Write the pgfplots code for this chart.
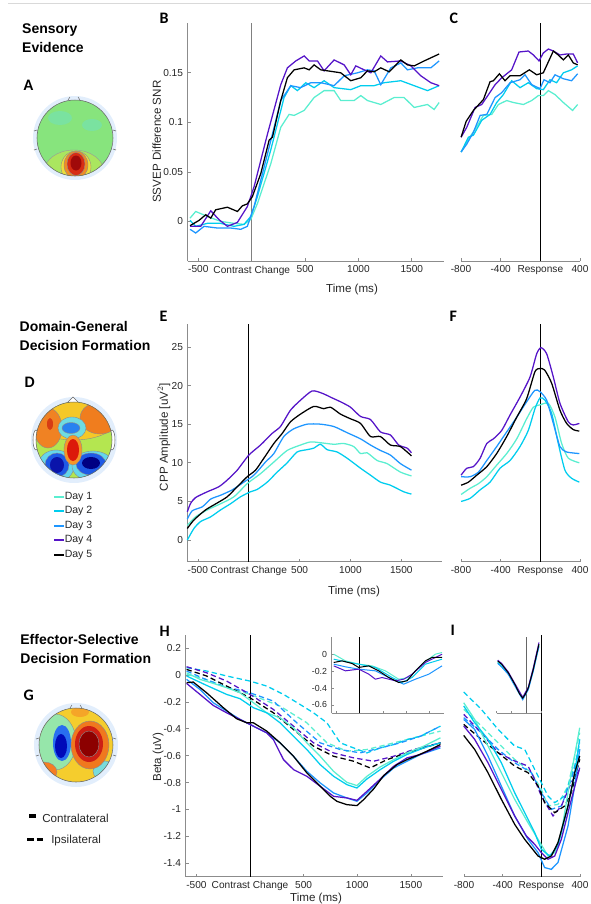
\documentclass[border=0pt]{standalone}
\usepackage{fontspec}
\setmainfont{Liberation Sans}
\newfontfamily\calib{Carlito}
\usepackage{pgfplots}
\pgfplotsset{compat=1.18}

\definecolor{dayA}{RGB}{90,238,208}
\definecolor{dayB}{RGB}{0,205,238}
\definecolor{dayC}{RGB}{30,150,255}
\definecolor{dayD}{RGB}{85,20,200}
\definecolor{halo}{RGB}{226,238,252}

\pgfplotsset{
  mat/.style={scale only axis, anchor=south west, clip=false,
    axis x line*=bottom, axis y line*=left,
    axis line style={draw=black!45, line width=0.5pt, -},
    tick style={draw=black!45, line width=0.5pt},
    tick align=inside, major tick length=2.2pt,
    tick label style={font=\fontsize{7.6}{8}\selectfont, text=black!85},
    every axis plot/.append style={line width=0.95pt}},
  resp/.style={mat, axis y line=none},
  dsh/.style={dash pattern=on 4pt off 2.4pt},
  ins/.style={mat, axis background/.style={fill=white},
    major tick length=1.6pt,
    tick label style={font=\fontsize{6.6}{7}\selectfont},
    every axis plot/.append style={line width=0.75pt}},
}

\newcommand{\lab}[1]{\fontsize{8.7}{9}\selectfont #1}
\newcommand{\ttl}[1]{\fontsize{10.5}{11}\selectfont\bfseries #1}
\newcommand{\pl}[1]{\fontsize{12}{12}\selectfont\calib\bfseries #1}

\begin{document}
\begin{tikzpicture}[x=0.75pt,y=-0.75pt]
\useasboundingbox (0,0) rectangle (591,904);
\draw[black!15, line width=0.6pt] (8,3) -- (591,3);

% ---------- titles and panel letters
\node[anchor=west] at (17.5,30) {\ttl{Sensory}};
\node[anchor=west] at (17.5,47.7) {\ttl{Evidence}};
\node[anchor=west] at (15,326) {\ttl{Domain-General}};
\node[anchor=west] at (15,345) {\ttl{Decision Formation}};
\node[anchor=west] at (15.7,639.3) {\ttl{Effector-Selective}};
\node[anchor=west] at (15.7,658.3) {\ttl{Decision Formation}};
\node[anchor=west] at (19,85) {\pl{A}};
\node[anchor=west] at (155,18.3) {\pl{B}};
\node[anchor=west] at (445,18.3) {\pl{C}};
\node[anchor=west] at (20,382.7) {\pl{D}};
\node[anchor=west] at (155,316.7) {\pl{E}};
\node[anchor=west] at (445,316.7) {\pl{F}};
\node[anchor=west] at (19,695) {\pl{G}};
\node[anchor=west] at (155,631.7) {\pl{H}};
\node[anchor=west] at (446,630) {\pl{I}};

% ---------- topographies (pictures, not data)
% A
\fill[halo] (75,138) circle (42);
\begin{scope}
\clip (75,138) circle (38);
\fill[fill={rgb,255:red,135;green,228;blue,125}] (75,138) circle (38);
\fill[fill={rgb,255:red,122;green,226;blue,160}] (60,118) ellipse (12 and 7);
\fill[fill={rgb,255:red,122;green,226;blue,160}] (92,125) ellipse (10 and 6);
\filldraw[draw=black!40, line width=0.3pt, fill={rgb,255:red,170;green,230;blue,95}] (74,172) ellipse (30 and 22);
\filldraw[draw=black!45, line width=0.3pt, fill={rgb,255:red,235;green,222;blue,60}] (76,167) ellipse (15 and 16);
\filldraw[draw=black!45, line width=0.3pt, fill={rgb,255:red,240;green,140;blue,35}] (76,165) ellipse (12 and 14);
\filldraw[draw=black!45, line width=0.3pt, fill={rgb,255:red,215;green,45;blue,20}] (76,164) ellipse (9 and 11.5);
\fill[fill={rgb,255:red,160;green,10;blue,10}] (76,163) ellipse (5.5 and 7.5);
\end{scope}
\draw[black!60, line width=0.4pt] (75,138) circle (38);
\draw[black!60, line width=0.4pt] (68,100) -- (70,97) (80,100) -- (78,97);
\draw[black!60, line width=0.4pt] (37,130) -- (34,131) (37,149) -- (34,150) (113,130) -- (116,131) (113,149) -- (116,150);

% D
\fill[halo] (74,440) circle (43);
\draw[black!60, fill=white, line width=0.4pt] (67,403) -- (73,397) -- (79,403);
\draw[black!60, fill=white, line width=0.4pt] (36,440) ellipse (3 and 10);
\draw[black!60, fill=white, line width=0.4pt] (112,440) ellipse (3 and 10);
\begin{scope}
\clip (74,440) circle (38);
\fill[fill={rgb,255:red,180;green,230;blue,80}] (74,440) circle (38);
\filldraw[draw=black!45, line width=0.3pt, fill={rgb,255:red,245;green,200;blue,40}] (74,418) ellipse (44 and 22);
\filldraw[draw=black!45, line width=0.3pt, fill={rgb,255:red,240;green,130;blue,35}] (48,428) ellipse (14 and 20);
\fill[fill={rgb,255:red,215;green,60;blue,20}] (50,424) ellipse (3 and 6);
\filldraw[draw=black!45, line width=0.3pt, fill={rgb,255:red,240;green,125;blue,30}] (100,418) ellipse (20 and 16);
\filldraw[draw=black!45, line width=0.3pt, fill={rgb,255:red,110;green,220;blue,225}] (72,428) ellipse (14 and 11);
\filldraw[draw=black!45, line width=0.3pt, fill={rgb,255:red,40;green,130;blue,240}] (71,428) ellipse (9 and 5.5);
\filldraw[draw=black!45, line width=0.3pt, fill={rgb,255:red,100;green,215;blue,235}] (56,466) ellipse (18 and 16);
\filldraw[draw=black!45, line width=0.3pt, fill={rgb,255:red,100;green,215;blue,235}] (93,466) ellipse (21 and 15);
\filldraw[draw=black!45, line width=0.3pt, fill={rgb,255:red,30;green,90;blue,230}] (57,465) ellipse (12 and 12);
\filldraw[draw=black!45, line width=0.3pt, fill={rgb,255:red,30;green,90;blue,230}] (91,464) ellipse (15 and 11);
\fill[fill={rgb,255:red,10;green,20;blue,170}] (57,465) ellipse (7 and 8);
\fill[fill={rgb,255:red,0;green,0;blue,130}] (91,463) ellipse (9 and 6);
\filldraw[draw=black!45, line width=0.3pt, fill={rgb,255:red,245;green,150;blue,40}] (73,450) ellipse (9 and 15);
\fill[fill={rgb,255:red,220;green,25;blue,10}] (73,450) ellipse (6 and 11);
\end{scope}
\draw[black!60, line width=0.4pt] (74,440) circle (38);

% G
\fill[halo] (76,745) circle (42);
\begin{scope}
\clip (76,745) circle (37);
\fill[fill={rgb,255:red,245;green,205;blue,45}] (76,745) circle (37);
\fill[fill={rgb,255:red,245;green,165;blue,40}] (80,712) ellipse (9 and 5);
\filldraw[draw=black!45, line width=0.3pt, fill={rgb,255:red,150;green,230;blue,170}] (55,742) ellipse (21 and 28);
\filldraw[draw=black!45, line width=0.3pt, fill={rgb,255:red,245;green,125;blue,35}] (44,772) ellipse (13 and 10);
\filldraw[draw=black!45, line width=0.3pt, fill={rgb,255:red,120;green,220;blue,220}] (105,771) ellipse (12 and 10);
\fill[fill={rgb,255:red,40;green,110;blue,240}] (62,743) ellipse (9 and 18);
\fill[fill={rgb,255:red,0;green,10;blue,185}] (61,746) ellipse (6 and 12);
\filldraw[draw=black!45, line width=0.3pt, fill={rgb,255:red,240;green,120;blue,30}] (90,745) ellipse (19 and 24);
\fill[fill={rgb,255:red,205;green,30;blue,20}] (89,744) ellipse (14 and 18);
\filldraw[draw=black!45, line width=0.3pt, fill={rgb,255:red,140;green,0;blue,0}] (89,744) ellipse (10 and 13);
\end{scope}
\draw[black!60, line width=0.4pt] (76,745) circle (37);
\draw[black!60, line width=0.4pt] (70,708) -- (72,705) (82,708) -- (80,705);
\draw[black!60, line width=0.4pt] (39,738) -- (36,739) (39,755) -- (36,756) (113,738) -- (116,739) (113,755) -- (116,756);

% ---------- legends
\foreach \col/\yy/\txt in {dayA/497/Day 1, dayB/511/Day 2, dayC/526/Day 3, dayD/540/Day 4, black/555/Day 5}{
  \draw[draw=\col, line width=1.1pt] (54,\yy) -- (64,\yy);
  \node[anchor=west, inner sep=0pt, text=black!85] at (64.5,\yy) {\fontsize{7.9}{8}\selectfont \txt};
}
\draw[black, line width=2.4pt] (29,816) -- (36,816);
\node[anchor=west, inner sep=0pt, text=black!85] at (42,818.5) {\lab{Contralateral}};
\draw[black, line width=2.4pt] (27,839.5) -- (33.5,839.5) (36.5,839.5) -- (43,839.5);
\node[anchor=west, inner sep=0pt, text=black!85] at (51,840.5) {\lab{Ipsilateral}};

% ---------- axis labels
\node[rotate=90, text=black!85] at (156.7,141.7) {\lab{SSVEP Difference SNR}};
\node[rotate=90, text=black!85] at (164,437) {\lab{CPP Amplitude [uV$^2$]}};
\node[rotate=90, text=black!85] at (158,757) {\lab{Beta (uV)}};
\node[text=black!85] at (352,289) {\lab{Time (ms)}};
\node[text=black!85] at (354,591.7) {\lab{Time (ms)}};
\node[text=black!85] at (316,898.5) {\lab{Time (ms)}};

\begin{scope}[x=1cm,y=1cm]
% ---------- B
\begin{axis}[mat, at={(140.78pt,-195.75pt)}, width=192.1pt, height=178.3pt,
  xmin=-600, xmax=1800, ymin=-0.04, ymax=0.2,
  xtick={-500,0,500,1000,1500}, xticklabels={-500,Contrast Change,500,1000,1500},
  ytick={0,0.05,0.1,0.15}, yticklabels={0,0.05,0.1,0.15}]
\addplot[black!50, line width=0.8pt] coordinates {(0,-0.04) (0,0.2)};
\addplot[dayA] coordinates {(-578,0.0033) (-525,0.01) (-416,0.005) (-291,0) (-166,-0.002) (-72,-0.003) (-9,0.002) (53,0.018) (178,0.058) (272,0.095) (350,0.108) (397,0.107) (491,0.112) (584,0.125) (678,0.132) (772,0.132) (834,0.122) (959,0.122) (1022,0.127) (1084,0.122) (1209,0.118) (1334,0.125) (1428,0.125) (1522,0.115) (1647,0.118) (1709,0.113) (1756,0.12)};
\addplot[dayB] coordinates {(-578,0.001) (-525,-0.005) (-416,-0.002) (-291,-0.002) (-166,-0.005) (-72,-0.003) (-9,0.005) (53,0.025) (178,0.072) (303,0.125) (366,0.137) (428,0.132) (506,0.14) (584,0.135) (678,0.142) (772,0.135) (928,0.133) (1022,0.137) (1147,0.137) (1241,0.14) (1397,0.142) (1522,0.137) (1647,0.132) (1756,0.137)};
\addplot[dayC] coordinates {(-578,-0.008) (-525,-0.0117) (-447,-0.005) (-322,-0.0067) (-197,-0.0067) (-103,-0.008) (-41,-0.005) (22,0.015) (147,0.068) (272,0.122) (366,0.137) (459,0.135) (553,0.14) (647,0.14) (772,0.137) (866,0.147) (991,0.15) (1084,0.153) (1147,0.152) (1209,0.138) (1303,0.155) (1397,0.16) (1459,0.153) (1553,0.155) (1678,0.155) (1756,0.162)};
\addplot[dayD] coordinates {(-578,-0.005) (-478,-0.005) (-384,0.0107) (-306,0.0017) (-228,-0.005) (-134,-0.001) (-41,0.015) (22,0.035) (147,0.088) (272,0.138) (334,0.155) (413,0.162) (491,0.167) (538,0.162) (616,0.162) (678,0.152) (772,0.163) (866,0.158) (928,0.148) (975,0.157) (1053,0.153) (1116,0.15) (1209,0.167) (1272,0.161) (1397,0.162) (1491,0.157) (1584,0.147) (1678,0.14) (1756,0.137)};
\addplot[black] coordinates {(-578,-0.0043) (-494,0.001) (-431,0.0067) (-384,0.0033) (-338,0.0117) (-228,0.0143) (-134,0.01) (-88,0.0157) (-41,0.0177) (6,0.025) (84,0.048) (163,0.082) (194,0.085) (272,0.122) (334,0.145) (397,0.153) (491,0.155) (538,0.153) (584,0.158) (647,0.153) (772,0.151) (834,0.15) (928,0.142) (1022,0.145) (1084,0.152) (1147,0.151) (1209,0.155) (1288,0.151) (1397,0.163) (1459,0.158) (1522,0.157) (1616,0.162) (1756,0.169)};
\end{axis}

% ---------- C
\begin{axis}[resp, at={(345.75pt,-195.75pt)}, width=89.25pt, height=178.3pt,
  xmin=-800, xmax=400, ymin=-0.04, ymax=0.2,
  xtick={-800,-400,0,400}, xticklabels={-800,-400,Response,400}]
\addplot[black, line width=0.7pt] coordinates {(0,-0.04) (0,0.2)};
\addplot[dayA] coordinates {(-799,0.07) (-725,0.083) (-658,0.093) (-574,0.107) (-490,0.108) (-423,0.118) (-339,0.122) (-272,0.12) (-171,0.118) (-87,0.122) (-20,0.127) (30,0.127) (81,0.132) (148,0.128) (232,0.12) (325,0.112) (376,0.118)};
\addplot[dayB] coordinates {(-799,0.07) (-725,0.085) (-675,0.087) (-591,0.102) (-507,0.108) (-440,0.12) (-373,0.128) (-289,0.142) (-205,0.135) (-121,0.14) (-37,0.134) (30,0.133) (97,0.143) (164,0.14) (232,0.15) (315,0.153) (376,0.157)};
\addplot[dayC] coordinates {(-799,0.07) (-742,0.078) (-675,0.09) (-607,0.107) (-540,0.108) (-456,0.125) (-389,0.13) (-305,0.14) (-205,0.143) (-154,0.148) (-87,0.138) (-3,0.134) (37,0.143) (97,0.14) (148,0.148) (232,0.144) (315,0.142) (376,0.149)};
\addplot[dayD] coordinates {(-799,0.085) (-742,0.095) (-658,0.115) (-591,0.118) (-523,0.128) (-456,0.138) (-389,0.145) (-339,0.149) (-289,0.153) (-215,0.171) (-121,0.172) (-70,0.168) (-13,0.162) (30,0.17) (81,0.174) (131,0.172) (198,0.168) (265,0.169) (332,0.169) (376,0.16)};
\addplot[black] coordinates {(-799,0.085) (-748,0.101) (-675,0.112) (-574,0.123) (-507,0.141) (-473,0.142) (-413,0.149) (-356,0.142) (-305,0.147) (-205,0.147) (-111,0.153) (-37,0.148) (30,0.15) (131,0.172) (181,0.168) (232,0.163) (282,0.168) (332,0.16) (376,0.158)};
\end{axis}

% ---------- E
\begin{axis}[mat, at={(140.78pt,-421.28pt)}, width=190.7pt, height=178.5pt,
  xmin=-600, xmax=1900, ymin=-2.8, ymax=28,
  xtick={-500,0,500,1000,1500}, xticklabels={-500,Contrast Change,500,1000,1500},
  ytick={0,5,10,15,20,25}, yticklabels={0,5,10,15,20,25},
  every axis plot/.append style={smooth, tension=0.4}]
\addplot[black, line width=0.7pt, sharp plot] coordinates {(0,-2.8) (0,28)};
\addplot[dayA] coordinates {(-604,1.9) (-523,3.0) (-408,3.9) (-277,4.7) (-146,5.6) (-15,7.3) (116,8.6) (247,10.1) (378,11.6) (509,12.3) (607,12.7) (705,12.6) (836,12.4) (934,12.5) (1033,12.1) (1099,11.2) (1164,11.3) (1262,10.3) (1360,9.9) (1491,8.8) (1600,8.3)};
\addplot[dayB] coordinates {(-604,0) (-539,1.5) (-473,2.4) (-375,3.0) (-277,3.9) (-179,4.7) (-81,5.6) (17,6.25) (83,6.55) (182,7.5) (280,8.8) (378,10.0) (476,11.4) (574,11.7) (640,11.9) (705,12.4) (771,11.7) (869,11.4) (967,10.6) (1099,9.3) (1197,8.4) (1295,7.5) (1393,7.1) (1524,6.25) (1600,5.95)};
\addplot[dayC] coordinates {(-604,2.7) (-555,3.8) (-457,4.3) (-375,5.3) (-277,5.8) (-162,6.5) (-48,7.5) (51,8.4) (165,10.1) (247,11.2) (345,13.4) (443,14.4) (574,15.0) (705,15.0) (836,14.7) (967,13.9) (1099,13.1) (1197,12.3) (1295,11.6) (1393,11.0) (1491,9.9) (1600,9.05)};
\addplot[dayD] coordinates {(-604,3.66) (-572,4.74) (-523,5.5) (-408,6.25) (-294,6.9) (-212,7.76) (-113,9.05) (1,11.0) (116,12.3) (230,13.8) (312,14.7) (410,16.8) (509,18.1) (623,19.3) (722,19.0) (820,18.4) (902,17.9) (1000,17.2) (1099,16.0) (1197,15.6) (1295,14.0) (1393,13.6) (1475,12.3) (1557,11.9) (1600,11.3)};
\addplot[black] coordinates {(-604,1.5) (-539,2.6) (-425,3.9) (-310,4.8) (-212,5.6) (-113,6.9) (-15,8.2) (67,9.05) (149,10.6) (247,12.5) (329,13.8) (410,15.3) (509,16.3) (640,17.3) (738,17.0) (804,17.2) (902,16.3) (1000,15.7) (1099,15.1) (1197,13.4) (1295,13.4) (1393,12.3) (1491,12.1) (1600,10.9)};
\end{axis}

% ---------- F
\begin{axis}[resp, at={(345.75pt,-421.28pt)}, width=89.25pt, height=178.5pt,
  xmin=-800, xmax=400, ymin=-2.8, ymax=28,
  xtick={-800,-400,0,400}, xticklabels={-800,-400,Response,400},
  every axis plot/.append style={smooth, tension=0.4}]
\addplot[black, line width=0.8pt, sharp plot] coordinates {(0,-2.8) (0,28)};
\addplot[dayA] coordinates {(-799,5.9) (-708,6.7) (-624,7.3) (-540,8.2) (-440,9.7) (-339,11.2) (-238,13.1) (-138,15.7) (-70,17.2) (-3,17.5) (81,17.7) (148,15.9) (215,12.5) (282,10.6) (393,10.0)};
\addplot[dayB] coordinates {(-799,5.0) (-708,5.4) (-607,6.5) (-507,7.5) (-406,9.3) (-305,10.3) (-205,12.1) (-121,14.2) (-54,17.0) (-3,18.4) (47,18.1) (114,16.4) (181,12.5) (248,9.05) (315,8.0) (393,7.5)};
\addplot[dayC] coordinates {(-799,8.2) (-708,8.2) (-624,8.8) (-540,10.3) (-440,12.1) (-339,14.0) (-238,15.9) (-138,17.9) (-54,19.4) (-3,19.2) (64,18.1) (131,15.1) (198,12.1) (265,11.4) (393,11.2)};
\addplot[dayD] coordinates {(-799,8.4) (-742,9.3) (-675,9.5) (-607,10.6) (-540,12.5) (-473,13.1) (-389,14.2) (-305,16.2) (-205,18.5) (-104,21.1) (-37,24.1) (7,24.9) (64,24.1) (131,21.1) (198,17.7) (282,15.3) (332,14.9) (393,15.1)};
\addplot[black] coordinates {(-799,7.1) (-725,7.5) (-641,8.4) (-540,9.5) (-440,11.2) (-339,13.4) (-238,15.9) (-138,18.3) (-54,21.8) (-3,22.2) (44,22.0) (114,20.3) (198,16.8) (265,15.1) (332,14.3) (393,14.1)};
\end{axis}

% ---------- H
\begin{axis}[mat, at={(139.28pt,-657.53pt)}, width=193pt, height=181.5pt,
  xmin=-600, xmax=1800, ymin=-1.5, ymax=0.3,
  xtick={-500,0,500,1000,1500}, xticklabels={-500,Contrast Change,500,1000,1500},
  ytick={-1.4,-1.2,-1,-0.8,-0.6,-0.4,-0.2,0,0.2}, yticklabels={-1.4,-1.2,-1,-0.8,-0.6,-0.4,-0.2,0,0.2}]
\addplot[black, line width=0.7pt] coordinates {(0,-1.5) (0,0.3)};
% ipsilateral (dashed)
\addplot[dayA, dsh] coordinates {(-592,0.005) (-420,-0.03) (-249,-0.082) (0,-0.144) (280,-0.231) (530,-0.355) (717,-0.504) (903,-0.566) (1090,-0.554) (1277,-0.517) (1464,-0.48) (1776,-0.417)};
\addplot[dayB, dsh] coordinates {(-592,0.055) (-405,0.03) (-218,-0.007) (0,-0.045) (156,-0.082) (312,-0.144) (467,-0.219) (592,-0.281) (717,-0.355) (841,-0.504) (966,-0.542) (1090,-0.579) (1215,-0.542) (1340,-0.517) (1464,-0.48) (1589,-0.455) (1776,-0.38)};
\addplot[dayC, dsh] coordinates {(-592,0.03) (-420,-0.03) (-249,-0.082) (0,-0.132) (218,-0.194) (436,-0.355) (654,-0.504) (841,-0.554) (1028,-0.579) (1215,-0.542) (1402,-0.504) (1589,-0.455) (1776,-0.38)};
\addplot[dayD, dsh] coordinates {(-592,0.062) (-405,0.017) (-218,-0.045) (0,-0.144) (218,-0.256) (405,-0.38) (592,-0.504) (779,-0.579) (966,-0.616) (1153,-0.641) (1340,-0.604) (1526,-0.554) (1776,-0.504)};
\addplot[black, dsh] coordinates {(-592,0.042) (-405,-0.007) (-218,-0.082) (0,-0.169) (218,-0.281) (405,-0.405) (592,-0.529) (779,-0.604) (966,-0.641) (1121,-0.691) (1277,-0.629) (1464,-0.579) (1776,-0.504)};
% contralateral (solid)
\addplot[dayA] coordinates {(-592,0.017) (-467,-0.032) (-343,-0.062) (-218,-0.094) (-93,-0.132) (31,-0.206) (156,-0.281) (280,-0.318) (405,-0.393) (530,-0.504) (654,-0.604) (779,-0.716) (903,-0.798) (997,-0.822) (1090,-0.753) (1215,-0.683) (1340,-0.629) (1464,-0.579) (1620,-0.529) (1776,-0.467)};
\addplot[dayB] coordinates {(-592,-0.007) (-405,-0.077) (-218,-0.144) (-93,-0.176) (31,-0.243) (156,-0.281) (280,-0.355) (405,-0.455) (530,-0.554) (654,-0.666) (779,-0.753) (903,-0.815) (997,-0.84) (1090,-0.773) (1215,-0.703) (1340,-0.641) (1464,-0.591) (1620,-0.542) (1776,-0.504)};
\addplot[dayC] coordinates {(-592,-0.032) (-467,-0.107) (-343,-0.206) (-218,-0.268) (-93,-0.33) (31,-0.38) (156,-0.43) (280,-0.504) (405,-0.604) (530,-0.716) (654,-0.802) (779,-0.877) (903,-0.914) (997,-0.939) (1090,-0.877) (1215,-0.778) (1340,-0.691) (1464,-0.641) (1589,-0.591) (1776,-0.542)};
\addplot[dayD] coordinates {(-592,-0.062) (-467,-0.144) (-343,-0.226) (-218,-0.281) (-93,-0.33) (31,-0.38) (156,-0.43) (218,-0.48) (312,-0.629) (405,-0.703) (530,-0.753) (654,-0.827) (779,-0.902) (903,-0.914) (997,-0.932) (1090,-0.865) (1215,-0.773) (1340,-0.678) (1464,-0.616) (1589,-0.591) (1776,-0.529)};
\addplot[black] coordinates {(-592,-0.057) (-530,-0.052) (-405,-0.132) (-249,-0.243) (-125,-0.325) (-31,-0.355) (31,-0.355) (156,-0.417) (280,-0.504) (405,-0.604) (530,-0.728) (654,-0.827) (748,-0.902) (810,-0.939) (903,-0.964) (997,-0.971) (1059,-0.927) (1153,-0.847) (1246,-0.748) (1371,-0.666) (1464,-0.629) (1558,-0.599) (1651,-0.566) (1776,-0.517)};
\end{axis}

% ---------- I
\begin{axis}[resp, at={(348pt,-657.53pt)}, width=87pt, height=181.5pt,
  xmin=-800, xmax=400, ymin=-1.5, ymax=0.3,
  xtick={-800,-400,0,400}, xticklabels={-800,-400,Response,400}]
\addplot[black, line width=0.7pt] coordinates {(0,-1.5) (0,0.3)};
\addplot[dayA, dsh] coordinates {(-803,-0.255) (-621,-0.379) (-448,-0.503) (-276,-0.627) (-103,-0.726) (0,-0.85) (69,-0.974) (172,-0.962) (276,-0.825) (397,-0.429)};
\addplot[dayB, dsh] coordinates {(-803,-0.126) (-621,-0.255) (-448,-0.404) (-276,-0.528) (-172,-0.553) (-103,-0.652) (-17,-0.776) (69,-0.9) (138,-0.949) (241,-0.9) (345,-0.677) (397,-0.503)};
\addplot[dayC, dsh] coordinates {(-803,-0.317) (-621,-0.429) (-448,-0.553) (-276,-0.652) (-103,-0.726) (0,-0.875) (103,-0.999) (207,-0.974) (310,-0.776) (397,-0.553)};
\addplot[dayD, dsh] coordinates {(-803,-0.292) (-621,-0.429) (-448,-0.577) (-276,-0.639) (-138,-0.677) (-69,-0.776) (0,-0.9) (121,-1.048) (207,-0.974) (310,-0.8) (397,-0.701)};
\addplot[black, dsh] coordinates {(-803,-0.367) (-621,-0.478) (-448,-0.577) (-276,-0.677) (-138,-0.726) (-34,-0.825) (34,-0.949) (138,-1.024) (241,-0.974) (310,-0.875) (397,-0.627)};
\addplot[dayA] coordinates {(-803,-0.206) (-690,-0.33) (-552,-0.528) (-414,-0.726) (-276,-0.924) (-138,-1.098) (-34,-1.222) (69,-1.346) (138,-1.321) (207,-1.172) (293,-0.8) (397,-0.392)};
\addplot[dayB] coordinates {(-803,-0.23) (-690,-0.354) (-552,-0.478) (-414,-0.652) (-276,-0.875) (-172,-1.024) (-69,-1.172) (0,-1.296) (86,-1.346) (172,-1.271) (276,-0.974) (345,-0.726) (397,-0.478)};
\addplot[dayC] coordinates {(-803,-0.33) (-690,-0.404) (-552,-0.602) (-414,-0.825) (-276,-1.048) (-138,-1.222) (-34,-1.321) (34,-1.432) (103,-1.445) (172,-1.395) (276,-1.123) (345,-0.825) (397,-0.553)};
\addplot[dayD] coordinates {(-803,-0.379) (-690,-0.478) (-552,-0.652) (-414,-0.85) (-276,-1.048) (-155,-1.197) (-69,-1.259) (0,-1.321) (69,-1.37) (138,-1.346) (207,-1.222) (293,-0.974) (397,-0.689)};
\addplot[black] coordinates {(-803,-0.449) (-690,-0.553) (-552,-0.726) (-414,-0.924) (-276,-1.11) (-172,-1.222) (-103,-1.284) (-34,-1.346) (34,-1.37) (103,-1.346) (172,-1.247) (276,-0.974) (345,-0.726) (397,-0.602)};
\end{axis}

% ---------- H inset
\begin{axis}[ins, at={(248.78pt,-534.98pt)}, width=84pt, height=57pt,
  xmin=-600, xmax=1800, ymin=-0.7, ymax=0.2,
  xtick={-500,0,500,1000,1500}, xticklabels={},
  ytick={-0.6,-0.4,-0.2,0}, yticklabels={-0.6,-0.4,-0.2,0}]
\addplot[black, line width=0.7pt] coordinates {(0,-0.7) (0,0.2)};
\addplot[dayA] coordinates {(-557,0.0) (-430,-0.04) (-306,-0.079) (-21,-0.118) (264,-0.138) (550,-0.197) (835,-0.296) (1050,-0.276) (1336,-0.118) (1621,0.0) (1764,0.02)};
\addplot[dayB] coordinates {(-557,-0.059) (-300,-0.09) (-21,-0.118) (336,-0.157) (693,-0.276) (907,-0.335) (1122,-0.276) (1407,-0.118) (1764,-0.059)};
\addplot[dayC] coordinates {(-557,-0.118) (-300,-0.15) (-21,-0.177) (336,-0.197) (693,-0.296) (943,-0.355) (1193,-0.296) (1479,-0.237) (1764,-0.138)};
\addplot[dayD] coordinates {(-557,-0.138) (-306,-0.197) (-21,-0.177) (193,-0.236) (336,-0.296) (479,-0.276) (764,-0.315) (943,-0.296) (1122,-0.237) (1407,-0.098) (1764,0.0)};
\addplot[black] coordinates {(-557,-0.098) (-377,-0.079) (-163,-0.11) (-21,-0.157) (193,-0.138) (407,-0.197) (621,-0.276) (835,-0.335) (1015,-0.315) (1193,-0.197) (1407,-0.079) (1550,-0.039) (1764,-0.039)};
\end{axis}

% ---------- I inset
\begin{axis}[ins, axis y line=none, at={(372.53pt,-534.98pt)}, width=33.2pt, height=57pt,
  xmin=-800, xmax=400, ymin=-0.7, ymax=0.2,
  xtick={-800,-400,0,400}, xticklabels={}]
\addplot[black!60, line width=0.8pt] coordinates {(0,-0.7) (0,0.2)};
\addplot[dayA] coordinates {(-773,-0.09) (-486,-0.22) (-304,-0.36) (-95,-0.52) (56,-0.4) (192,-0.17) (346,0.11)};
\addplot[dayB] coordinates {(-773,-0.1) (-486,-0.23) (-304,-0.37) (-95,-0.53) (56,-0.41) (192,-0.19) (346,0.10)};
\addplot[dayC] coordinates {(-773,-0.11) (-665,-0.15) (-486,-0.24) (-304,-0.38) (-95,-0.54) (56,-0.42) (192,-0.2) (284,-0.02) (346,0.09)};
\addplot[dayD] coordinates {(-773,-0.07) (-665,-0.11) (-486,-0.21) (-304,-0.35) (-95,-0.51) (56,-0.39) (192,-0.16) (284,0.02) (346,0.14)};
\addplot[black] coordinates {(-773,-0.08) (-665,-0.12) (-486,-0.22) (-304,-0.36) (-180,-0.47) (-95,-0.52) (-20,-0.47) (56,-0.40) (192,-0.18) (284,0.0) (346,0.12)};
\end{axis}
\end{scope}
\end{tikzpicture}
\end{document}
